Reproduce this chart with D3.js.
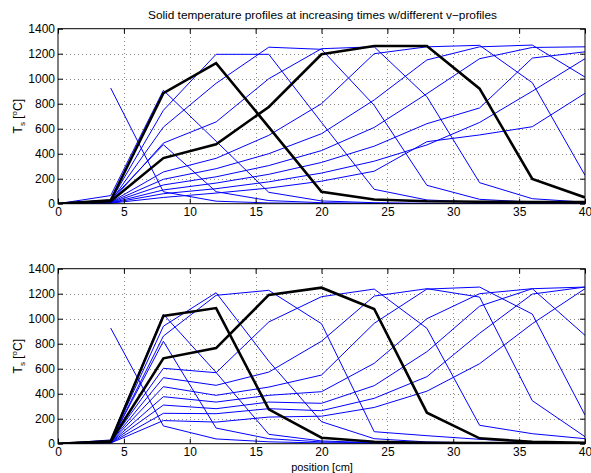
<!DOCTYPE html>
<html>
<head>
<meta charset="utf-8">
<script src="https://cdnjs.cloudflare.com/ajax/libs/d3/7.8.5/d3.min.js"></script>
<style>
  html, body { margin: 0; padding: 0; background: #fff; }
  svg { display: block; font-family: "Liberation Sans", Arial, Helvetica, sans-serif; }
</style>
</head>
<body>
<svg id="chart" width="591" height="473"></svg>
<script>
// Grid nodes along the bed [cm]
const xNodes = [0, 4, 8, 12, 16, 20, 24, 28, 32, 36, 40];
const xTicks = [0, 5, 10, 15, 20, 25, 30, 35, 40];
const yTicks = [0, 200, 400, 600, 800, 1000, 1200, 1400];

// Upper panel: solid temperature [°C] at each node, one row per time
const topInitial = [null, 925, 95, 20, 6, 2, 1, 0, 0, 0, 0];
const topBlue = [
  [0, 30, 472, 96, 25, 8, 3, 1, 0, 0, 0],
  [0, 65, 907, 500, 91, 22, 8, 3, 1, 0, 0],
  [0, 22, 747, 1195, 1195, 650, 115, 30, 12, 5, 3],
  [0, 18, 613, 963, 1252, 1235, 787, 147, 35, 12, 5],
  [0, 15, 485, 654, 1000, 1240, 1255, 856, 168, 40, 12],
  [0, 12, 254, 363, 547, 800, 1200, 1255, 1267, 968, 227],
  [0, 10, 195, 280, 400, 560, 830, 1150, 1255, 1269, 1013],
  [0, 8, 150, 215, 305, 425, 610, 880, 1160, 1250, 1255],
  [0, 6, 110, 165, 235, 330, 460, 640, 766, 1165, 1215],
  [0, 5, 80, 120, 175, 245, 340, 470, 650, 900, 1160],
  [0, 4, 50, 85, 125, 180, 260, 496, 550, 616, 883]
];
const topBlack = [
  [0, 27, 885, 1125, 613, 96, 34, 20, 16, 14, 14],
  [0, 20, 365, 475, 774, 1195, 1262, 1262, 920, 198, 50]
];

// Lower panel
const bottomInitial = [null, 925, 142, 38, 15, 6, 3, 1, 0, 0, 0];
const bottomBlue = [
  [0, 20, 819, 125, 40, 14, 6, 3, 1, 0, 0],
  [0, 30, 1035, 570, 75, 22, 8, 3, 1, 0, 0],
  [0, 18, 940, 1208, 660, 176, 40, 14, 6, 3, 1],
  [0, 16, 861, 1187, 1227, 960, 96, 64, 35, 15, 6],
  [0, 15, 603, 568, 974, 1176, 1237, 923, 147, 80, 40],
  [0, 13, 528, 467, 573, 820, 1181, 1240, 1173, 344, 56],
  [0, 11, 456, 387, 453, 549, 963, 1237, 1253, 1037, 229],
  [0, 9, 376, 333, 387, 416, 643, 1000, 1200, 1240, 867],
  [0, 7, 309, 280, 333, 323, 464, 736, 1100, 1240, 1253],
  [0, 6, 243, 240, 280, 264, 363, 536, 883, 1197, 1253],
  [0, 5, 185, 173, 213, 220, 290, 420, 640, 960, 1240]
];
const bottomBlack = [
  [0, 20, 1022, 1085, 275, 48, 16, 8, 5, 4, 4],
  [0, 18, 683, 765, 1190, 1248, 1078, 248, 43, 15, 8]
];

const svg = d3.select("#chart");
const left = 58, right = 585;

svg.append("text")
  .attr("x", 322.5).attr("y", 19)
  .attr("text-anchor", "middle")
  .attr("font-size", 11.5)
  .attr("textLength", 349).attr("lengthAdjust", "spacingAndGlyphs")
  .text("Solid temperature profiles at increasing times w/different v\u2212profiles");

function panel(top, bottom, initial, blue, black, id) {
  const x = d3.scaleLinear().domain([0, 40]).range([left, right]);
  const y = d3.scaleLinear().domain([0, 1400]).range([bottom, top]);
  const g = svg.append("g");

  g.append("clipPath").attr("id", id)
    .append("rect").attr("x", left).attr("y", top)
    .attr("width", right - left).attr("height", bottom - top);

  // dotted grid
  const grid = g.append("g").attr("stroke", "#8a8a8a").attr("stroke-width", 1)
    .attr("stroke-dasharray", "1,3").attr("shape-rendering", "crispEdges");
  grid.selectAll("line.v").data(xTicks.slice(1, -1)).join("line")
    .attr("x1", d => Math.round(x(d)) + 0.5).attr("x2", d => Math.round(x(d)) + 0.5)
    .attr("y1", top).attr("y2", bottom);
  grid.selectAll("line.h").data(yTicks.slice(1, -1)).join("line")
    .attr("x1", left).attr("x2", right)
    .attr("y1", d => Math.round(y(d)) + 0.5).attr("y2", d => Math.round(y(d)) + 0.5);

  const line = d3.line()
    .defined(d => d[1] !== null)
    .x(d => x(d[0])).y(d => y(d[1]));
  const pts = row => row.map((v, i) => [xNodes[i], v]);

  const plot = g.append("g").attr("clip-path", `url(#${id})`).attr("fill", "none");
  plot.append("path").attr("d", line(pts(initial)))
    .attr("stroke", "#0000ff").attr("stroke-width", 1);
  plot.selectAll("path.blue").data(blue).join("path").attr("class", "blue")
    .attr("d", r => line(pts(r)))
    .attr("stroke", "#0000ff").attr("stroke-width", 1);
  plot.selectAll("path.black").data(black).join("path").attr("class", "black")
    .attr("d", r => line(pts(r)))
    .attr("stroke", "#000").attr("stroke-width", 2.6).attr("stroke-linejoin", "miter");

  // axes with inward ticks on all sides
  const fmt = d3.format("d");
  const xb = d3.axisBottom(x).tickValues(xTicks).tickFormat(fmt).tickSizeInner(-5).tickSizeOuter(0).tickPadding(4);
  const xt = d3.axisTop(x).tickValues(xTicks).tickSizeInner(-5).tickSizeOuter(0).tickFormat("");
  const yl = d3.axisLeft(y).tickValues(yTicks).tickFormat(fmt).tickSizeInner(-5).tickSizeOuter(0).tickPadding(3);
  const yr = d3.axisRight(y).tickValues(yTicks).tickSizeInner(-5).tickSizeOuter(0).tickFormat("");
  const ax = [
    g.append("g").attr("transform", `translate(0,${bottom})`).call(xb),
    g.append("g").attr("transform", `translate(0,${top})`).call(xt),
    g.append("g").attr("transform", `translate(${left},0)`).call(yl),
    g.append("g").attr("transform", `translate(${right},0)`).call(yr)
  ];
  ax.forEach(a => {
    a.select(".domain").remove();
    a.selectAll("text").attr("font-size", 12).attr("fill", "#000")
      .attr("font-family", "'Liberation Sans', Arial, sans-serif");
    a.selectAll("line").attr("stroke", "#000");
  });

  g.append("rect").attr("x", left).attr("y", top)
    .attr("width", right - left).attr("height", bottom - top)
    .attr("fill", "none").attr("stroke", "#000").attr("stroke-width", 1);

  // y label: T_s [°C]
  const lab = g.append("text")
    .attr("transform", `translate(22,${(top + bottom) / 2}) rotate(-90)`)
    .attr("text-anchor", "middle").attr("font-size", 12);
  lab.append("tspan").text("T");
  lab.append("tspan").attr("font-size", 8).attr("dy", 3).text("s");
  lab.append("tspan").attr("dy", -3).text(" [");
  lab.append("tspan").attr("font-size", 8).attr("dy", -5).text("o");
  lab.append("tspan").attr("dy", 5).text("C]");
}

panel(28.7, 203.7, topInitial, topBlue, topBlack, "clipTop");
panel(268.7, 443.7, bottomInitial, bottomBlue, bottomBlack, "clipBottom");

svg.append("text")
  .attr("x", 322).attr("y", 471)
  .attr("text-anchor", "middle")
  .attr("font-size", 11)
  .text("position [cm]");
</script>
</body>
</html>
